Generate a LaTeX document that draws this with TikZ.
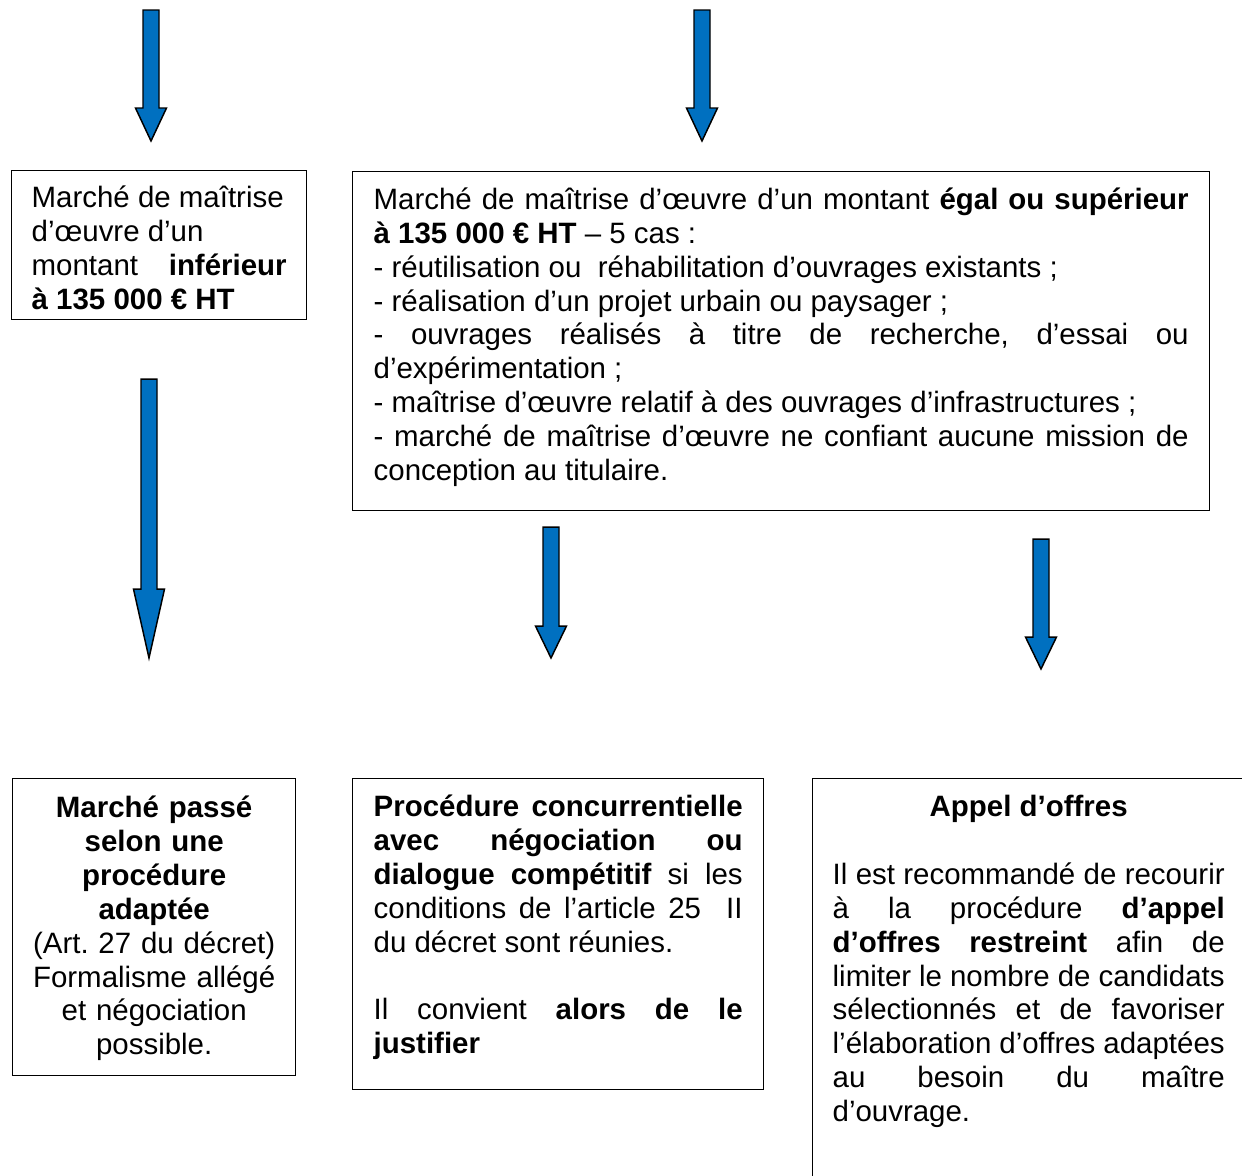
\documentclass[tikz,border=0pt]{standalone}
\usepackage{fontspec}
\setmainfont{Liberation Sans}
\usepackage{tikz}
\usetikzlibrary{calc}
\definecolor{arrowblue}{RGB}{0,112,192}
\frenchspacing

\newcommand{\blockarrow}[3]{%
  \draw[arrowbody] let \p1=(#1), \p2=(#2) in
    (\x1-3.26pt,\y1) -- (\x1+3.26pt,\y1) -- (\x1+3.26pt,\y2+#3) -- (\x1+6.32pt,\y2+#3)
    -- (\x2,\y2) -- (\x1-6.32pt,\y2+#3) -- (\x1-3.26pt,\y2+#3) -- cycle;}

\begin{document}
\begin{tikzpicture}[x=0.4075pt, y=-0.4075pt,
	box/.style={draw, line width=0.55pt, anchor=north west, inner ysep=0pt, font=\fontsize{12pt}{13.8pt}\selectfont},
	arrowbody/.style={fill=arrowblue, draw=black, line width=0.6pt, line join=miter}]
	\useasboundingbox (0,0) rectangle (1242,1175);

	\node[box, align=justify, text width=103.9pt, inner xsep=8.15pt, text height=15.2pt, text depth=45.5pt] (lowbox) at (11,170)
		{Marché de maîtrise\\ d'œuvre d'un\\ montant\ \ \ \textbf{inférieur}\linebreak\textbf{à 135~000 € HT}};
	\node[box, align=justify, text width=332.1pt, inner xsep=8.56pt, text height=15.4pt, text depth=122.75pt] (highbox) at (352,171)
		{Marché de maîtrise d'œuvre d'un montant \textbf{égal ou supérieur}\linebreak\textbf{à 135~000 € HT} -- 5 cas :\\
		- réutilisation ou\ \ réhabilitation d'ouvrages existants ;\\
		- réalisation d'un projet urbain ou paysager ;\\
		- ouvrages réalisés à titre de recherche, d'essai ou\linebreak d'expérimentation ;\\
		- maîtrise d'œuvre relatif à des ouvrages d'infrastructures ;\\
		- marché de maîtrise d'œuvre ne confiant aucune mission de\linebreak conception au titulaire.};

	\node[box, align=center, text width=105.54pt, inner xsep=4.89pt, text height=15.9pt, text depth=105.1pt] (mapa) at (12,778)
		{\textbf{Marché passé}\\ \textbf{selon une}\\ \textbf{procédure}\\ \textbf{adaptée}\\ (Art. 27 du décret)\\ Formalisme allégé\\ et négociation\\ possible.};
	\node[box, align=justify, text width=150.37pt, inner xsep=8.56pt, text height=15.5pt, text depth=111.2pt] (negoc) at (352,778)
		{\textbf{Procédure concurrentielle}\linebreak\textbf{avec négociation ou}\linebreak\textbf{dialogue compétitif} si les\linebreak conditions de l'article 25\ \ II\linebreak du décret sont réunies.\\[13.8pt]
		Il convient \textbf{alors de le}\linebreak\textbf{justifier}};
	\node[box, align=justify, text width=159.74pt, inner xsep=8.15pt, text height=15.5pt, text depth=163pt] (appel) at (812,778)
		{\hspace*{\fill}\textbf{Appel d'offres}\hspace*{\fill}\\[13.8pt]
		Il est recommandé de recourir\linebreak à la procédure \textbf{d'appel}\linebreak\textbf{d'offres restreint} afin de\linebreak limiter le nombre de candidats\linebreak sélectionnés et de favoriser\linebreak l'élaboration d'offres adaptées\linebreak au besoin du maître\linebreak d'ouvrage.};

	\coordinate (a1top) at (151,10);
	\coordinate (a1tip) at (151,141);
	\coordinate (a2top) at (702,10);
	\coordinate (a2tip) at (702,141);
	\coordinate (a3top) at (149,379);
	\coordinate (a3tip) at (149,658);
	\coordinate (a4top) at (551,527);
	\coordinate (a4tip) at (551,658);
	\coordinate (a5top) at (1041,539);
	\coordinate (a5tip) at (1041,669);

	\blockarrow{a1top}{a1tip}{13.45pt}
	\blockarrow{a2top}{a2tip}{13.45pt}
	\blockarrow{a3top}{a3tip}{28.1pt}
	\blockarrow{a4top}{a4tip}{13.04pt}
	\blockarrow{a5top}{a5tip}{13.04pt}
\end{tikzpicture}
\end{document}
